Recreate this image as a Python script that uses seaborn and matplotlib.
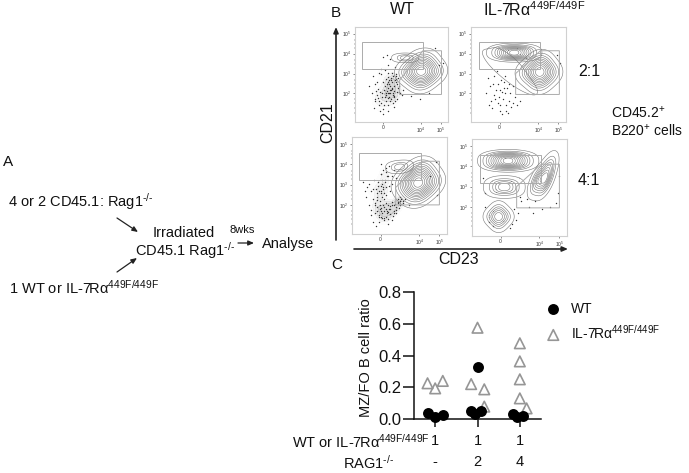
import matplotlib
matplotlib.use("Agg")
import matplotlib.pyplot as plt
import seaborn as sns
from matplotlib.patches import Rectangle, Polygon

# --- ratio panel values ---
wt_x = [0.82, 1.0, 1.18, 1.85, 1.93, 2.09, 2.0, 2.84, 2.93, 3.08]
wt_y = [0.036, 0.015, 0.025, 0.052, 0.03, 0.052, 0.325, 0.03, 0.015, 0.02]
mut_x = [0.82, 1.0, 1.18, 2.0, 1.85, 2.16, 2.16, 3.0, 3.0, 3.0, 3.0, 3.16]
mut_y = [0.225, 0.193, 0.24, 0.575, 0.22, 0.187, 0.078, 0.477, 0.363, 0.25, 0.13, 0.067]
ratio_ticks = [0.0, 0.2, 0.4, 0.6, 0.8]
group_ticks = [1, 2, 3]
row_wt = ["1", "1", "1"]
row_rag = ["-", "2", "4"]

# --- flow panels: populations as anchors (CD23, CD21, weight) and stray events, 0-100 scale ---
p1_fo_x = [71, 58, 84, 71, 71, 78]
p1_fo_y = [53, 53, 53, 63, 43, 66]
p1_fo_w = [5, 3, 3, 3, 3, 1]
p1_mz_x = [48, 54, 60, 48, 54, 60]
p1_mz_y = [66, 66, 66, 69, 69, 69]
p1_mz_w = [1, 2, 1, 1, 2, 1]
p1_dots_x = [18, 22, 25, 28, 30, 33, 35, 38, 40, 42, 44, 20, 24, 27, 31, 34, 36, 39, 41, 15, 19, 26, 29, 32, 37,
             43, 45, 30, 34, 38, 24, 28, 32, 36, 40, 44, 35, 30, 26, 22, 38, 42, 47, 86, 90, 95, 60, 70, 80, 28, 33,
             38, 40, 42, 44, 46, 41, 43, 45, 37, 39, 36, 38, 40, 42, 44, 46, 34, 36, 33, 35, 37, 39, 41, 31, 32,
             47, 48, 45, 43, 41, 39, 37, 35, 33, 29, 27, 25, 23, 21, 50, 52, 30, 36, 42, 26]
p1_dots_y = [30, 24, 35, 20, 42, 28, 47, 38, 52, 33, 45, 15, 28, 12, 18, 33, 25, 44, 30, 38, 48, 52, 30, 38, 30,
             58, 40, 68, 70, 66, 42, 50, 55, 60, 36, 50, 18, 8, 22, 40, 22, 26, 32, 78, 60, 62, 27, 24, 30, 56, 45,
             34, 42, 38, 48, 36, 28, 44, 32, 40, 46, 36, 30, 35, 27, 42, 46, 40, 52, 30, 42, 26, 24, 48, 34, 26,
             38, 30, 24, 22, 20, 34, 44, 30, 22, 26, 32, 25, 33, 22, 28, 34, 14, 12, 16, 18]

p2_fo_x = [72, 60, 83, 72, 72, 76]
p2_fo_y = [52, 52, 52, 62, 42, 64]
p2_fo_w = [5, 3, 3, 3, 3, 1]
p2_mz_x = [32, 41, 50, 59, 32, 41, 50, 59]
p2_mz_y = [70, 70, 70, 70, 76, 76, 76, 76]
p2_mz_w = [2, 4, 4, 2, 2, 4, 4, 2]
p2_tail_x = [30, 42, 52, 40]
p2_tail_y = [60, 50, 45, 62]
p2_tail_w = [2, 2, 2, 2]
p2_dots_x = [20, 24, 28, 32, 36, 40, 18, 22, 26, 30, 34, 38, 42, 46, 24, 28, 33, 37, 41, 16, 21, 31, 35, 44, 90, 94,
             25, 29, 33, 37, 27, 23, 30, 35, 40, 19, 44, 48, 52, 39, 36]
p2_dots_y = [38, 28, 20, 44, 30, 22, 46, 15, 34, 12, 24, 36, 16, 26, 48, 40, 8, 18, 30, 30, 22, 34, 42, 38, 70, 62,
             24, 26, 32, 12, 54, 40, 18, 36, 40, 18, 20, 18, 22, 10, 48]

p3_fo_x = [70, 57, 83, 70, 70, 77, 60]
p3_fo_y = [53, 53, 53, 64, 42, 67, 42]
p3_fo_w = [5, 3, 3, 3, 3, 1, 1]
p3_mz_x = [44, 50, 56, 44, 50, 56]
p3_mz_y = [67, 67, 68, 71, 71, 72]
p3_mz_w = [1, 2, 1, 1, 2, 1]
p3_dots_x = [15, 18, 20, 22, 24, 26, 28, 30, 32, 34, 36, 38, 40, 42, 44, 46, 48, 50, 18, 22, 26, 30, 34, 38, 42, 16, 20, 24, 28, 32,
             36, 40, 44, 23, 27, 31, 35, 39, 25, 29, 33, 37, 20, 26, 32, 38, 44, 50, 56, 60, 82, 90, 88, 12, 14, 30, 36,
             24, 26, 28, 30, 32, 34, 36, 22, 25, 27, 29, 31, 33, 35, 37, 30, 32, 34, 36, 38, 40, 42, 44, 46, 48, 50, 52, 54,
             28, 31, 34, 37, 40, 43, 46, 49, 26, 29, 33, 36, 39, 42, 45, 48, 51, 54, 30, 33, 36, 39, 34, 38, 42, 46]
p3_dots_y = [38, 30, 25, 46, 22, 35, 18, 44, 52, 24, 40, 60, 26, 52, 30, 58, 32, 34, 52, 12, 42, 24, 36, 30, 60, 48, 20, 30, 12, 38,
             18, 44, 66, 56, 50, 62, 56, 50, 8, 30, 46, 24, 44, 28, 16, 10, 22, 34, 36, 30, 60, 40, 74, 54, 44, 72, 68,
             32, 38, 44, 50, 56, 42, 48, 36, 46, 54, 34, 42, 48, 54, 60, 27, 22, 28, 32, 23, 29, 33, 24, 28, 33, 30, 36, 32,
             20, 18, 16, 22, 21, 19, 25, 27, 24, 26, 30, 26, 26, 30, 31, 36, 38, 34, 62, 66, 64, 70, 14, 15, 14, 22]

p4_band_x = [24, 34, 44, 54, 24, 34, 44, 54]
p4_band_y = [74, 74, 74, 74, 81, 81, 81, 81]
p4_band_w = [3, 5, 5, 2, 3, 5, 5, 2]
p4_fo_x = [68, 76, 70, 78, 82, 80]
p4_fo_y = [52, 52, 60, 60, 70, 74]
p4_fo_w = [2, 3, 4, 4, 2, 2]
p4_mid_x = [26, 34, 42, 26, 34, 42]
p4_mid_y = [47, 47, 47, 54, 54, 54]
p4_mid_w = [2, 2, 2, 2, 2, 2]
p4_low_x = [21, 28, 35, 28, 28]
p4_low_y = [20, 20, 20, 13, 27]
p4_low_w = [3, 3, 3, 3, 3]
p4_dots_x = [14, 18, 22, 40, 44, 48, 50, 60, 66, 74, 82, 88, 92, 46, 52, 58, 64, 14, 42, 12, 90]
p4_dots_y = [30, 14, 10, 8, 28, 24, 40, 30, 36, 28, 30, 34, 62, 16, 36, 38, 24, 44, 12, 60, 44]

# labels of the flow axes
cd21_ticks = [93, 72, 51, 30]
cd21_labels = ["$10^5$", "$10^4$", "$10^3$", "$10^2$"]
cd21_minor = [15, 10, 20, 24, 36, 40, 44, 57, 61, 65, 78, 82, 86]
cd23_ticks = [30, 71, 92]
cd23_labels = ["0", "$10^4$", "$10^5$"]
cd23_minor = [16, 20, 24, 27, 33, 36, 40, 44, 48, 52, 56, 60, 64, 68, 84, 88]

W, H = 689, 473
FLOW_GRAY = "#757575"


def px_axes(fig, left, top, right, bottom):
    return fig.add_axes([left / W, 1 - bottom / H, (right - left) / W, (bottom - top) / H])


def flow_panel(fig, box, pops, dx, dy, gate_box, gate_poly, cloud=False):
    ax = px_axes(fig, *box)
    if cloud:
        sns.kdeplot(x=dx, y=dy, ax=ax, fill=True, cmap="Greys", levels=5, thresh=0.25, alpha=0.18,
                    bw_method=0.3, zorder=1)
    ax.scatter(dx, dy, s=1.0, color="#333333", linewidths=0, zorder=1.5)
    for cx, cy, cw, n in pops:
        sns.kdeplot(x=cx, y=cy, weights=cw, ax=ax, levels=n, thresh=0.05, bw_method=1.0,
                    color=FLOW_GRAY, linewidths=0.4, zorder=2)
    ax.add_patch(Rectangle(gate_box[:2], gate_box[2], gate_box[3], fill=False, ec="#ababab", lw=0.7, zorder=3))
    ax.add_patch(Polygon(gate_poly, closed=True, fill=False, ec="#ababab", lw=0.7, zorder=3))
    ax.set_xlim(0, 100)
    ax.set_ylim(0, 100)
    ax.set_xlabel("")
    ax.set_ylabel("")
    ax.set_xticks(cd23_ticks, cd23_labels)
    ax.set_yticks(cd21_ticks, cd21_labels)
    ax.set_xticks(cd23_minor, minor=True)
    ax.set_yticks(cd21_minor, minor=True)
    ax.tick_params(labelsize=3.5, length=1.5, width=0.4, pad=1, colors="#333333", bottom=True, left=True)
    ax.tick_params(which="minor", length=1, width=0.3, colors="#333333", bottom=True, left=True)
    for s in ax.spines.values():
        s.set_color("#d0d0d0")
        s.set_linewidth(0.8)
    return ax


sns.set_theme(style="white")
plt.rcParams["font.family"] = ["Liberation Sans", "DejaVu Sans"]
plt.rcParams["mathtext.fontset"] = "custom"
plt.rcParams["mathtext.rm"] = "Liberation Sans"
plt.rcParams["mathtext.default"] = "regular"

fig = plt.figure(figsize=(W / 100, H / 100), dpi=100)

# overlay for the free text and arrows, in pixels
bg = fig.add_axes([0, 0, 1, 1])
bg.set_xlim(0, W)
bg.set_ylim(H, 0)
bg.axis("off")

GENO = r"IL-7R$\alpha^{449F/449F}$"
RAG = r"$^{\text{-/-}}$"


def label(x, y, s, size=10.5, **kw):
    bg.text(x, y, s, fontsize=size, color="#111111", va="center", **kw)


def arrow(x0, y0, x1, y1, lw=0.9):
    bg.annotate("", xy=(x1, y1), xytext=(x0, y0),
                arrowprops=dict(arrowstyle="-|>,head_width=0.12,head_length=0.28", color="#222222", lw=lw,
                                shrinkA=0, shrinkB=0))


label(3, 162, "A", 11)
label(8, 202, "4 or 2 CD45.1: Rag1" + RAG)
label(9, 288, "1 WT or " + GENO)
label(153, 233, "Irradiated")
label(135, 251, "CD45.1 Rag1" + RAG)
label(262, 244, "Analyse")
label(230, 230, "8wks", 8)
arrow(117, 218, 138, 232)
arrow(117, 272, 137, 258)
arrow(238, 243, 254, 243)

label(331, 13, "B", 11)
label(402, 10, "WT", 11.5, ha="center")
label(483, 10, GENO, 11.5)
label(578, 72, "2:1", 11.5)
label(578, 180, "4:1", 11.5)
label(611, 113, "CD45.2$^{+}$", 10)
label(611, 131, "B220$^{+}$ cells", 10)
label(331, 265, "C", 11)
label(459, 259, "CD23", 11.5, ha="center")
label(328, 123, "CD21", 11.5, rotation=90, ha="center")
arrow(336, 240, 336, 27, 1.2)
arrow(354, 249, 568, 249, 1.2)

flow_panel(fig, (355, 27, 448, 122),
           [(p1_fo_x, p1_fo_y, p1_fo_w, 12), (p1_mz_x, p1_mz_y, p1_mz_w, 4)],
           p1_dots_x, p1_dots_y,
           (7, 56, 66, 28), [(73, 75), (93, 75), (93, 29), (48, 29), (48, 44)], cloud=True)
flow_panel(fig, (471, 27, 566, 122),
           [(p2_fo_x, p2_fo_y, p2_fo_w, 11), (p2_mz_x, p2_mz_y, p2_mz_w, 11), (p2_tail_x, p2_tail_y, p2_tail_w, 2)],
           p2_dots_x, p2_dots_y,
           (8, 56, 65, 28), [(73, 75), (93, 75), (93, 29), (47, 29), (47, 51)])
flow_panel(fig, (352, 137, 447, 234),
           [(p3_fo_x, p3_fo_y, p3_fo_w, 13), (p3_mz_x, p3_mz_y, p3_mz_w, 4)],
           p3_dots_x, p3_dots_y,
           (7, 56, 66, 27), [(74, 75), (92, 75), (92, 30), (46, 30), (46, 48)], cloud=True)
flow_panel(fig, (472, 139, 567, 236),
           [(p4_band_x, p4_band_y, p4_band_w, 12), (p4_fo_x, p4_fo_y, p4_fo_w, 9),
            (p4_mid_x, p4_mid_y, p4_mid_w, 6), (p4_low_x, p4_low_y, p4_low_w, 7)],
           p4_dots_x, p4_dots_y,
           (8, 55, 65, 28), [(73, 74), (92, 74), (92, 29), (47, 29), (47, 51)])

# ratio panel
ax = px_axes(fig, 414, 292, 541, 419)
sns.scatterplot(x=wt_x, y=wt_y, ax=ax, marker="o", color="black", s=62, linewidth=0, label="WT", clip_on=False, zorder=3)
sns.scatterplot(x=mut_x, y=mut_y, ax=ax, marker="^", facecolor="none", edgecolor="#969696", s=58,
                linewidth=1.2, label=GENO, clip_on=False, zorder=2)
ax.set_xlim(0.5, 3.5)
ax.set_ylim(0, 0.8)
ax.set_yticks(ratio_ticks, [f"{v:.1f}" for v in ratio_ticks])
ax.set_xticks(group_ticks, [f"{a}\n{b}" for a, b in zip(row_wt, row_rag)])
ax.tick_params(axis="y", labelsize=12, length=8, width=1.1, pad=1, left=True, color="#111111", labelcolor="#111111")
ax.tick_params(axis="x", labelsize=10.5, length=6, width=1.1, pad=5, bottom=True, color="#111111", labelcolor="#111111")
for lab in ax.get_xticklabels():
    lab.set_linespacing(1.65)
sns.despine(ax=ax)
ax.spines["left"].set_linewidth(1.1)
ax.spines["bottom"].set_linewidth(1.1)
ax.spines["left"].set_color("#111111")
ax.spines["bottom"].set_color("#111111")
ax.set_ylabel("MZ/FO B cell ratio", fontsize=10.5, color="#111111")
ax.yaxis.set_label_coords(-0.32, 0.48)
ax.legend(loc="upper left", bbox_to_anchor=(0.9, 1.03), frameon=False, fontsize=10, labelspacing=0.55,
          handletextpad=0.5, handlelength=1.6, borderaxespad=0.6, labelcolor="#111111")

label(430, 442, "WT or " + GENO, ha="right")
label(394, 463, "RAG1" + RAG, ha="right")

fig.savefig("out.png", dpi=100)
